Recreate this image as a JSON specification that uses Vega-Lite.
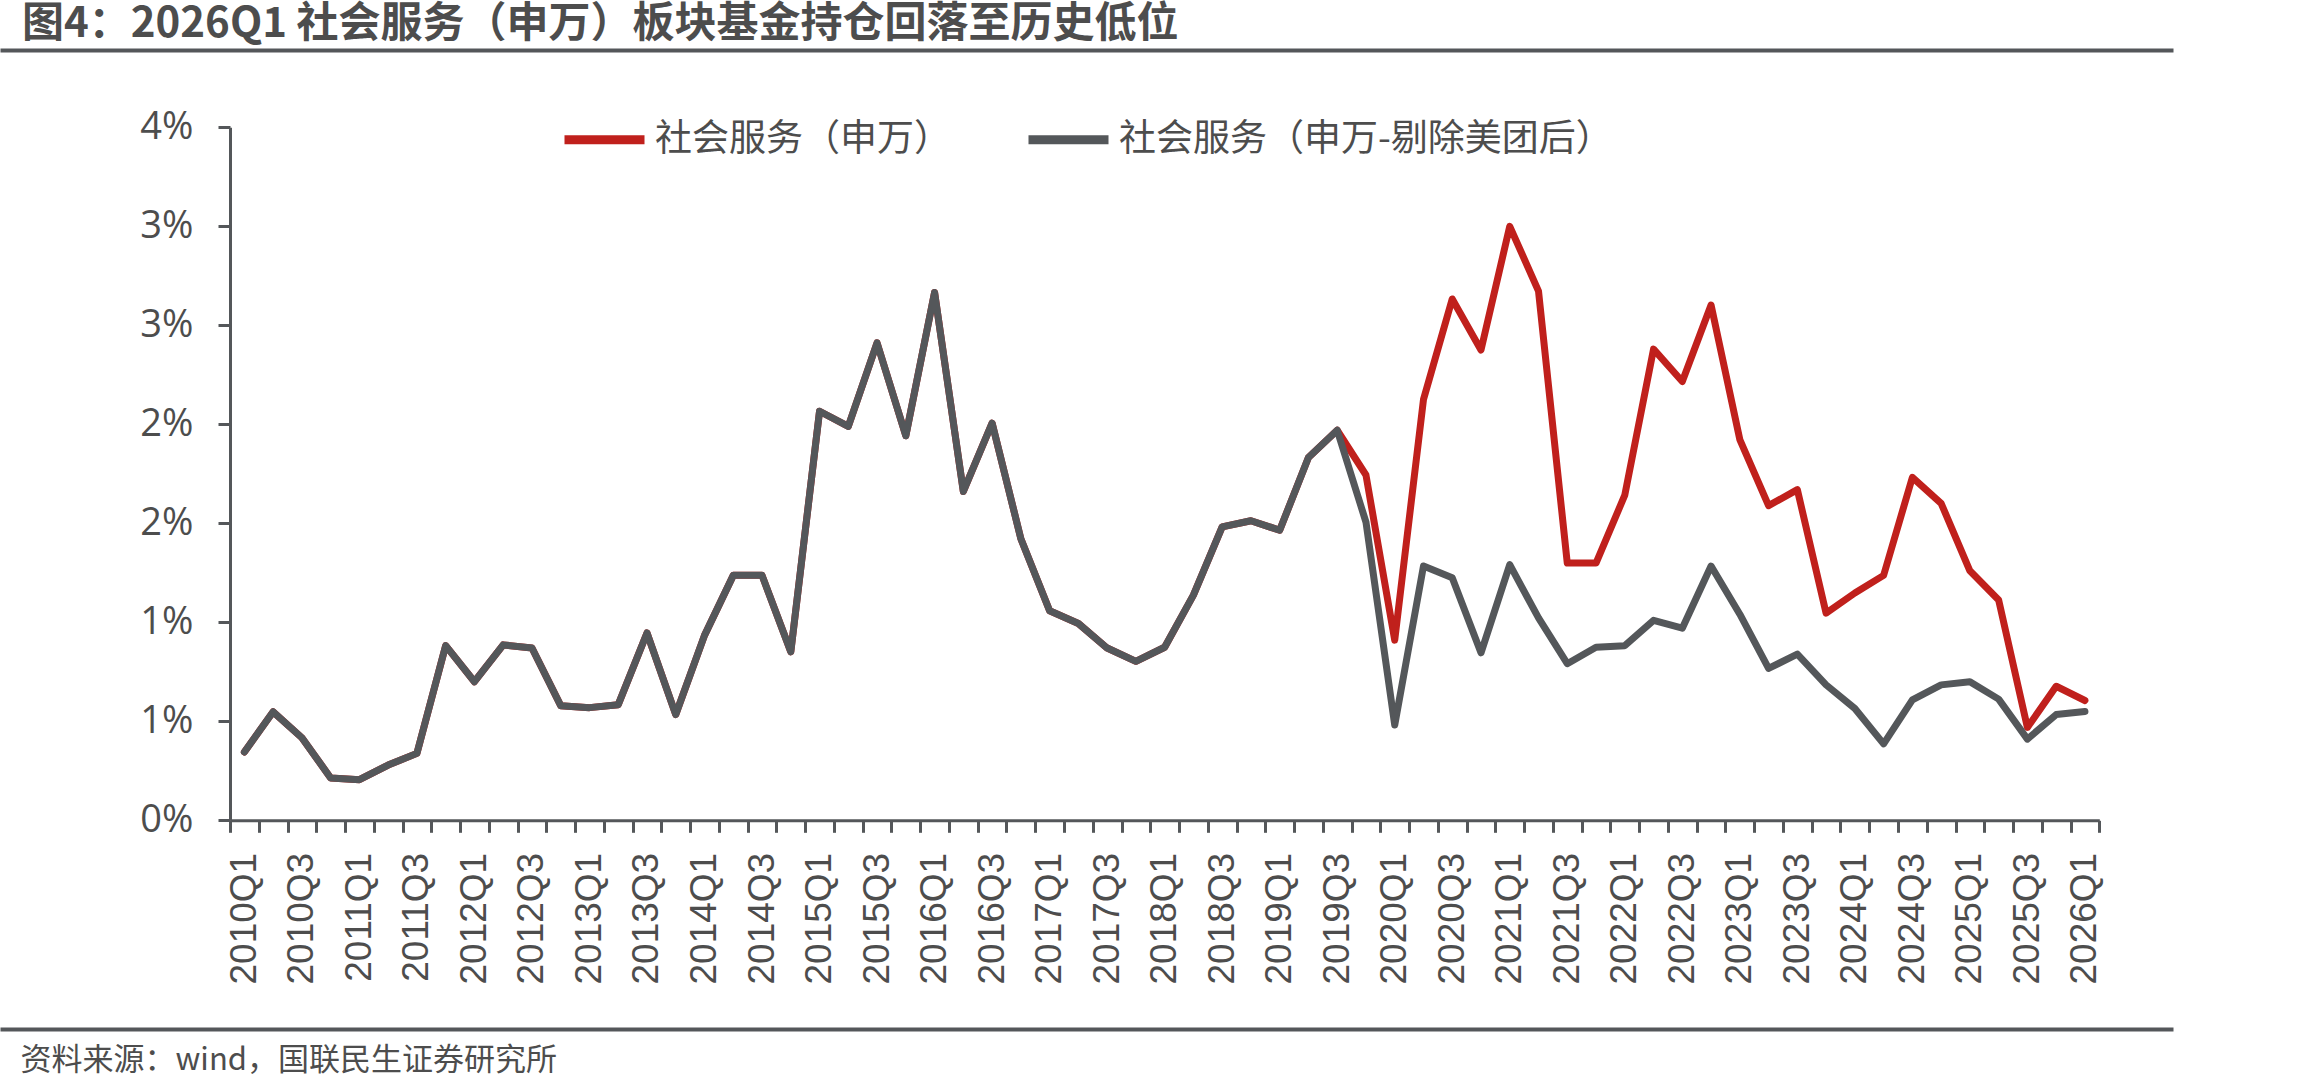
{
  "$schema": "https://vega.github.io/schema/vega-lite/v6.json",
  "width": 2173,
  "height": 979,
  "autosize": {"type": "none"},
  "padding": {"left": 0, "top": 50, "right": 137, "bottom": 62},
  "background": "white",
  "config": {"view": {"stroke": null}},
  "title": {
    "text": "图4：2026Q1 社会服务（申万）板块基金持仓回落至历史低位",
    "anchor": "start",
    "frame": "group",
    "font": "Noto Sans CJK SC",
    "fontSize": 42,
    "fontWeight": "bold",
    "color": "#4d4d4d",
    "baseline": "alphabetic",
    "offset": 9,
    "dx": 22,
    "dy": 41
  },
  "data": {
    "values": [
      {"quarter": "2010Q1", "series": "社会服务（申万）", "value": 0.345},
      {"quarter": "2010Q2", "series": "社会服务（申万）", "value": 0.548},
      {"quarter": "2010Q3", "series": "社会服务（申万）", "value": 0.417},
      {"quarter": "2010Q4", "series": "社会服务（申万）", "value": 0.214},
      {"quarter": "2011Q1", "series": "社会服务（申万）", "value": 0.205},
      {"quarter": "2011Q2", "series": "社会服务（申万）", "value": 0.279},
      {"quarter": "2011Q3", "series": "社会服务（申万）", "value": 0.338},
      {"quarter": "2011Q4", "series": "社会服务（申万）", "value": 0.882},
      {"quarter": "2012Q1", "series": "社会服务（申万）", "value": 0.700},
      {"quarter": "2012Q2", "series": "社会服务（申万）", "value": 0.886},
      {"quarter": "2012Q3", "series": "社会服务（申万）", "value": 0.870},
      {"quarter": "2012Q4", "series": "社会服务（申万）", "value": 0.579},
      {"quarter": "2013Q1", "series": "社会服务（申万）", "value": 0.569},
      {"quarter": "2013Q2", "series": "社会服务（申万）", "value": 0.584},
      {"quarter": "2013Q3", "series": "社会服务（申万）", "value": 0.946},
      {"quarter": "2013Q4", "series": "社会服务（申万）", "value": 0.534},
      {"quarter": "2014Q1", "series": "社会服务（申万）", "value": 0.934},
      {"quarter": "2014Q2", "series": "社会服务（申万）", "value": 1.237},
      {"quarter": "2014Q3", "series": "社会服务（申万）", "value": 1.237},
      {"quarter": "2014Q4", "series": "社会服务（申万）", "value": 0.851},
      {"quarter": "2015Q1", "series": "社会服务（申万）", "value": 2.066},
      {"quarter": "2015Q2", "series": "社会服务（申万）", "value": 1.990},
      {"quarter": "2015Q3", "series": "社会服务（申万）", "value": 2.411},
      {"quarter": "2015Q4", "series": "社会服务（申万）", "value": 1.942},
      {"quarter": "2016Q1", "series": "社会服务（申万）", "value": 2.666},
      {"quarter": "2016Q2", "series": "社会服务（申万）", "value": 1.661},
      {"quarter": "2016Q3", "series": "社会服务（申万）", "value": 2.006},
      {"quarter": "2016Q4", "series": "社会服务（申万）", "value": 1.422},
      {"quarter": "2017Q1", "series": "社会服务（申万）", "value": 1.058},
      {"quarter": "2017Q2", "series": "社会服务（申万）", "value": 0.994},
      {"quarter": "2017Q3", "series": "社会服务（申万）", "value": 0.870},
      {"quarter": "2017Q4", "series": "社会服务（申万）", "value": 0.803},
      {"quarter": "2018Q1", "series": "社会服务（申万）", "value": 0.874},
      {"quarter": "2018Q2", "series": "社会服务（申万）", "value": 1.137},
      {"quarter": "2018Q3", "series": "社会服务（申万）", "value": 1.482},
      {"quarter": "2018Q4", "series": "社会服务（申万）", "value": 1.513},
      {"quarter": "2019Q1", "series": "社会服务（申万）", "value": 1.465},
      {"quarter": "2019Q2", "series": "社会服务（申万）", "value": 1.832},
      {"quarter": "2019Q3", "series": "社会服务（申万）", "value": 1.970},
      {"quarter": "2019Q4", "series": "社会服务（申万）", "value": 1.744},
      {"quarter": "2020Q1", "series": "社会服务（申万）", "value": 0.910},
      {"quarter": "2020Q2", "series": "社会服务（申万）", "value": 2.125},
      {"quarter": "2020Q3", "series": "社会服务（申万）", "value": 2.633},
      {"quarter": "2020Q4", "series": "社会服务（申万）", "value": 2.375},
      {"quarter": "2021Q1", "series": "社会服务（申万）", "value": 3.000},
      {"quarter": "2021Q2", "series": "社会服务（申万）", "value": 2.673},
      {"quarter": "2021Q3", "series": "社会服务（申万）", "value": 1.299},
      {"quarter": "2021Q4", "series": "社会服务（申万）", "value": 1.299},
      {"quarter": "2022Q1", "series": "社会服务（申万）", "value": 1.642},
      {"quarter": "2022Q2", "series": "社会服务（申万）", "value": 2.380},
      {"quarter": "2022Q3", "series": "社会服务（申万）", "value": 2.216},
      {"quarter": "2022Q4", "series": "社会服务（申万）", "value": 2.602},
      {"quarter": "2023Q1", "series": "社会服务（申万）", "value": 1.923},
      {"quarter": "2023Q2", "series": "社会服务（申万）", "value": 1.589},
      {"quarter": "2023Q3", "series": "社会服务（申万）", "value": 1.670},
      {"quarter": "2023Q4", "series": "社会服务（申万）", "value": 1.046},
      {"quarter": "2024Q1", "series": "社会服务（申万）", "value": 1.148},
      {"quarter": "2024Q2", "series": "社会服务（申万）", "value": 1.237},
      {"quarter": "2024Q3", "series": "社会服务（申万）", "value": 1.732},
      {"quarter": "2024Q4", "series": "社会服务（申万）", "value": 1.601},
      {"quarter": "2025Q1", "series": "社会服务（申万）", "value": 1.260},
      {"quarter": "2025Q2", "series": "社会服务（申万）", "value": 1.113},
      {"quarter": "2025Q3", "series": "社会服务（申万）", "value": 0.469},
      {"quarter": "2025Q4", "series": "社会服务（申万）", "value": 0.677},
      {"quarter": "2026Q1", "series": "社会服务（申万）", "value": 0.605},
      {"quarter": "2010Q1", "series": "社会服务（申万-剔除美团后）", "value": 0.345},
      {"quarter": "2010Q2", "series": "社会服务（申万-剔除美团后）", "value": 0.548},
      {"quarter": "2010Q3", "series": "社会服务（申万-剔除美团后）", "value": 0.417},
      {"quarter": "2010Q4", "series": "社会服务（申万-剔除美团后）", "value": 0.214},
      {"quarter": "2011Q1", "series": "社会服务（申万-剔除美团后）", "value": 0.205},
      {"quarter": "2011Q2", "series": "社会服务（申万-剔除美团后）", "value": 0.279},
      {"quarter": "2011Q3", "series": "社会服务（申万-剔除美团后）", "value": 0.338},
      {"quarter": "2011Q4", "series": "社会服务（申万-剔除美团后）", "value": 0.882},
      {"quarter": "2012Q1", "series": "社会服务（申万-剔除美团后）", "value": 0.700},
      {"quarter": "2012Q2", "series": "社会服务（申万-剔除美团后）", "value": 0.886},
      {"quarter": "2012Q3", "series": "社会服务（申万-剔除美团后）", "value": 0.870},
      {"quarter": "2012Q4", "series": "社会服务（申万-剔除美团后）", "value": 0.579},
      {"quarter": "2013Q1", "series": "社会服务（申万-剔除美团后）", "value": 0.569},
      {"quarter": "2013Q2", "series": "社会服务（申万-剔除美团后）", "value": 0.584},
      {"quarter": "2013Q3", "series": "社会服务（申万-剔除美团后）", "value": 0.946},
      {"quarter": "2013Q4", "series": "社会服务（申万-剔除美团后）", "value": 0.534},
      {"quarter": "2014Q1", "series": "社会服务（申万-剔除美团后）", "value": 0.934},
      {"quarter": "2014Q2", "series": "社会服务（申万-剔除美团后）", "value": 1.237},
      {"quarter": "2014Q3", "series": "社会服务（申万-剔除美团后）", "value": 1.237},
      {"quarter": "2014Q4", "series": "社会服务（申万-剔除美团后）", "value": 0.851},
      {"quarter": "2015Q1", "series": "社会服务（申万-剔除美团后）", "value": 2.066},
      {"quarter": "2015Q2", "series": "社会服务（申万-剔除美团后）", "value": 1.990},
      {"quarter": "2015Q3", "series": "社会服务（申万-剔除美团后）", "value": 2.411},
      {"quarter": "2015Q4", "series": "社会服务（申万-剔除美团后）", "value": 1.942},
      {"quarter": "2016Q1", "series": "社会服务（申万-剔除美团后）", "value": 2.666},
      {"quarter": "2016Q2", "series": "社会服务（申万-剔除美团后）", "value": 1.661},
      {"quarter": "2016Q3", "series": "社会服务（申万-剔除美团后）", "value": 2.006},
      {"quarter": "2016Q4", "series": "社会服务（申万-剔除美团后）", "value": 1.422},
      {"quarter": "2017Q1", "series": "社会服务（申万-剔除美团后）", "value": 1.058},
      {"quarter": "2017Q2", "series": "社会服务（申万-剔除美团后）", "value": 0.994},
      {"quarter": "2017Q3", "series": "社会服务（申万-剔除美团后）", "value": 0.870},
      {"quarter": "2017Q4", "series": "社会服务（申万-剔除美团后）", "value": 0.803},
      {"quarter": "2018Q1", "series": "社会服务（申万-剔除美团后）", "value": 0.874},
      {"quarter": "2018Q2", "series": "社会服务（申万-剔除美团后）", "value": 1.137},
      {"quarter": "2018Q3", "series": "社会服务（申万-剔除美团后）", "value": 1.482},
      {"quarter": "2018Q4", "series": "社会服务（申万-剔除美团后）", "value": 1.513},
      {"quarter": "2019Q1", "series": "社会服务（申万-剔除美团后）", "value": 1.465},
      {"quarter": "2019Q2", "series": "社会服务（申万-剔除美团后）", "value": 1.832},
      {"quarter": "2019Q3", "series": "社会服务（申万-剔除美团后）", "value": 1.970},
      {"quarter": "2019Q4", "series": "社会服务（申万-剔除美团后）", "value": 1.506},
      {"quarter": "2020Q1", "series": "社会服务（申万-剔除美团后）", "value": 0.481},
      {"quarter": "2020Q2", "series": "社会服务（申万-剔除美团后）", "value": 1.284},
      {"quarter": "2020Q3", "series": "社会服务（申万-剔除美团后）", "value": 1.225},
      {"quarter": "2020Q4", "series": "社会服务（申万-剔除美团后）", "value": 0.846},
      {"quarter": "2021Q1", "series": "社会服务（申万-剔除美团后）", "value": 1.291},
      {"quarter": "2021Q2", "series": "社会服务（申万-剔除美团后）", "value": 1.022},
      {"quarter": "2021Q3", "series": "社会服务（申万-剔除美团后）", "value": 0.791},
      {"quarter": "2021Q4", "series": "社会服务（申万-剔除美团后）", "value": 0.874},
      {"quarter": "2022Q1", "series": "社会服务（申万-剔除美团后）", "value": 0.882},
      {"quarter": "2022Q2", "series": "社会服务（申万-剔除美团后）", "value": 1.010},
      {"quarter": "2022Q3", "series": "社会服务（申万-剔除美团后）", "value": 0.970},
      {"quarter": "2022Q4", "series": "社会服务（申万-剔除美团后）", "value": 1.284},
      {"quarter": "2023Q1", "series": "社会服务（申万-剔除美团后）", "value": 1.041},
      {"quarter": "2023Q2", "series": "社会服务（申万-剔除美团后）", "value": 0.767},
      {"quarter": "2023Q3", "series": "社会服务（申万-剔除美团后）", "value": 0.839},
      {"quarter": "2023Q4", "series": "社会服务（申万-剔除美团后）", "value": 0.684},
      {"quarter": "2024Q1", "series": "社会服务（申万-剔除美团后）", "value": 0.565},
      {"quarter": "2024Q2", "series": "社会服务（申万-剔除美团后）", "value": 0.386},
      {"quarter": "2024Q3", "series": "社会服务（申万-剔除美团后）", "value": 0.608},
      {"quarter": "2024Q4", "series": "社会服务（申万-剔除美团后）", "value": 0.684},
      {"quarter": "2025Q1", "series": "社会服务（申万-剔除美团后）", "value": 0.700},
      {"quarter": "2025Q2", "series": "社会服务（申万-剔除美团后）", "value": 0.612},
      {"quarter": "2025Q3", "series": "社会服务（申万-剔除美团后）", "value": 0.410},
      {"quarter": "2025Q4", "series": "社会服务（申万-剔除美团后）", "value": 0.534},
      {"quarter": "2026Q1", "series": "社会服务（申万-剔除美团后）", "value": 0.550}
    ]
  },
  "layer": [
    {
      "encoding": {
        "x": {
          "field": "quarter",
          "type": "ordinal",
          "bandPosition": 0.5,
          "scale": {"type": "band", "range": [230, 2099.3], "paddingInner": 0, "paddingOuter": 0},
          "axis": {
            "orient": "bottom",
            "offset": -208.7,
            "tickBand": "extent",
            "tickSize": 12,
            "tickWidth": 3,
            "tickColor": "#54575a",
            "domainColor": "#54575a",
            "domainWidth": 3,
            "grid": false,
            "labelAngle": 270,
            "labelFont": "Liberation Sans",
            "labelFontSize": 37,
            "labelColor": "#4d4d4d",
            "labelPadding": 20,
            "labelOverlap": false,
            "labelExpr": "(indexof(datum.label,'Q1')>=0 || indexof(datum.label,'Q3')>=0) ? datum.label : ''",
            "title": "资料来源：wind，国联民生证券研究所",
            "titleFont": "Noto Sans CJK SC",
            "titleFontSize": 31,
            "titleFontWeight": "normal",
            "titleColor": "#4d4d4d",
            "titleAngle": 0,
            "titleAlign": "left",
            "titleBaseline": "middle",
            "titleX": 20,
            "titleY": 240
          }
        },
        "y": {
          "field": "value",
          "type": "quantitative",
          "scale": {"domain": [0, 3.5], "range": [770.3, 77.3], "nice": false, "zero": true},
          "axis": {
            "orient": "left",
            "offset": -230,
            "values": [0, 0.5, 1, 1.5, 2, 2.5, 3, 3.5],
            "labelExpr": "format(datum.value, '.0f') + '%'",
            "tickSize": 12,
            "tickWidth": 3,
            "tickColor": "#54575a",
            "domainColor": "#54575a",
            "domainWidth": 3,
            "grid": false,
            "labelFont": "Open Sans",
            "labelFontSize": 38,
            "labelColor": "#4d4d4d",
            "labelPadding": 25,
            "title": null
          }
        },
        "color": {
          "field": "series",
          "type": "nominal",
          "scale": {
            "domain": ["社会服务（申万）", "社会服务（申万-剔除美团后）"],
            "range": ["#c0201c", "#54575a"]
          },
          "legend": {
            "orient": "none",
            "legendX": 560,
            "legendY": 45,
            "direction": "horizontal",
            "title": null,
            "padding": 0,
            "symbolType": "stroke",
            "symbolSize": 6400,
            "symbolStrokeWidth": 9,
            "labelFont": "Noto Sans CJK SC",
            "labelFontSize": 37,
            "labelColor": "#4d4d4d",
            "labelOffset": 6,
            "labelLimit": 1000,
            "columnPadding": 59
          }
        }
      },
      "layer": [
        {
          "transform": [{"filter": "datum.series === '社会服务（申万）'"}],
          "mark": {"type": "line", "strokeWidth": 7, "strokeJoin": "round", "strokeCap": "round"}
        },
        {
          "transform": [{"filter": "datum.series === '社会服务（申万-剔除美团后）'"}],
          "mark": {"type": "line", "strokeWidth": 7, "strokeJoin": "round", "strokeCap": "round"}
        }
      ]
    },
    {
      "data": {"values": [{"edge": 0}, {"edge": 1}]},
      "mark": {"type": "point", "opacity": 0},
      "encoding": {
        "y": {
          "field": "edge",
          "type": "quantitative",
          "scale": {"domain": [0, 1], "nice": false, "zero": false},
          "axis": {
            "orient": "right",
            "values": [0, 1],
            "grid": true,
            "gridColor": "#54575a",
            "gridWidth": 4,
            "gridOpacity": 1,
            "labels": false,
            "ticks": false,
            "domain": false,
            "title": null
          }
        }
      }
    }
  ],
  "resolve": {"scale": {"y": "independent"}, "axis": {"y": "independent"}}
}
